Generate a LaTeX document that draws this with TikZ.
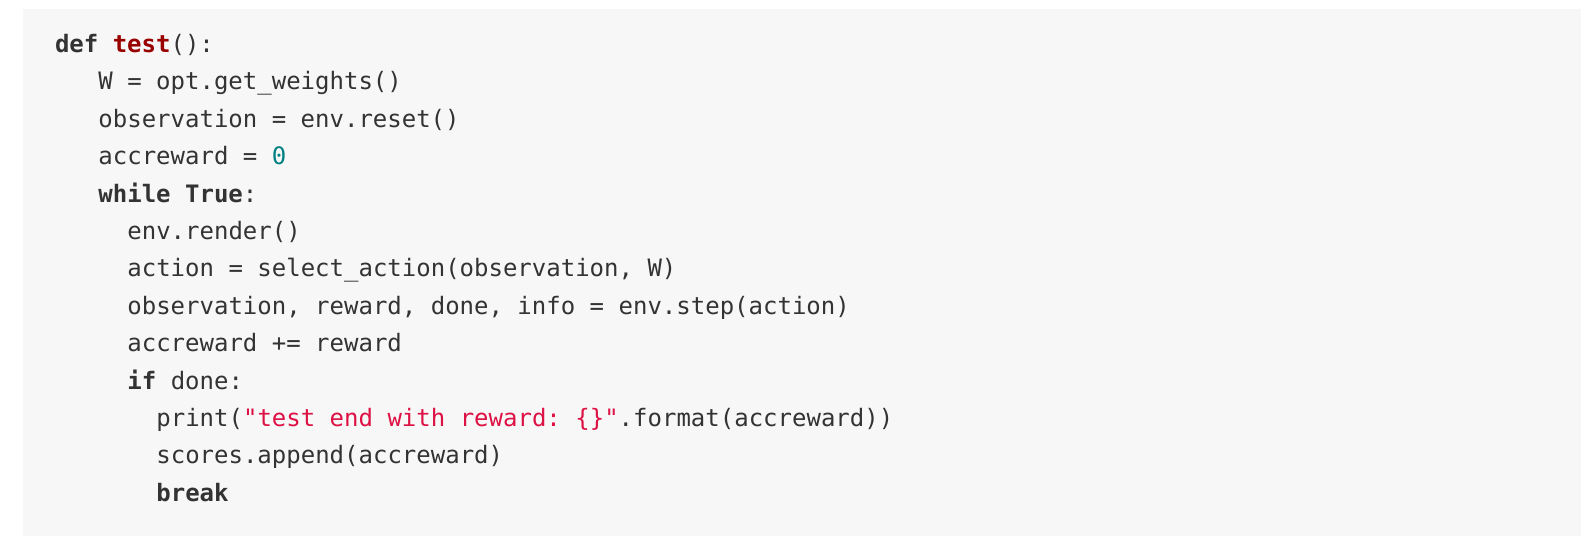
\documentclass[tikz,border=0pt]{standalone}
\usepackage{fontspec}
\setmonofont{DejaVu Sans Mono}
\definecolor{codebg}{HTML}{F7F7F7}
\definecolor{codefg}{HTML}{333333}
\definecolor{codetitle}{HTML}{990000}
\definecolor{codenum}{HTML}{008080}
\definecolor{codestr}{HTML}{DD1144}
\newcommand{\kw}[1]{\textbf{#1}}
\newcommand{\ttl}[1]{\textcolor{codetitle}{\textbf{#1}}}
\newcommand{\nm}[1]{\textcolor{codenum}{#1}}
\newcommand{\st}[1]{\textcolor{codestr}{#1}}
\begin{document}
\begin{tikzpicture}[x=1pt,y=-1pt,
  codeline/.style={anchor=base west, inner sep=0pt, outer sep=0pt,
    text=codefg, font=\ttfamily\fontsize{24}{30}\selectfont}]
\useasboundingbox (0,0) rectangle (1581,536);
\fill[codebg] (23,9) rectangle (1581,536);
\def\cw{14.48}
\def\lp{37.4}
\def\bl{52.5}
\node[codeline] (l0) at (55+0*\cw, \bl+0*\lp) {\kw{def} \ttl{test}():};
\node[codeline] (l1) at (55+3*\cw, \bl+1*\lp) {W = opt.get\_weights()};
\node[codeline] (l2) at (55+3*\cw, \bl+2*\lp) {observation = env.reset()};
\node[codeline] (l3) at (55+3*\cw, \bl+3*\lp) {accreward = \nm{0}};
\node[codeline] (l4) at (55+3*\cw, \bl+4*\lp) {\kw{while} \kw{True}:};
\node[codeline] (l5) at (55+5*\cw, \bl+5*\lp) {env.render()};
\node[codeline] (l6) at (55+5*\cw, \bl+6*\lp) {action = select\_action(observation, W)};
\node[codeline] (l7) at (55+5*\cw, \bl+7*\lp) {observation, reward, done, info = env.step(action)};
\node[codeline] (l8) at (55+5*\cw, \bl+8*\lp) {accreward += reward};
\node[codeline] (l9) at (55+5*\cw, \bl+9*\lp) {\kw{if} done:};
\node[codeline] (l10) at (55+7*\cw, \bl+10*\lp) {print(\st{"test end with reward: \{\}"}.format(accreward))};
\node[codeline] (l11) at (55+7*\cw, \bl+11*\lp) {scores.append(accreward)};
\node[codeline] (l12) at (55+7*\cw, \bl+12*\lp) {\kw{break}};
\end{tikzpicture}
\end{document}
